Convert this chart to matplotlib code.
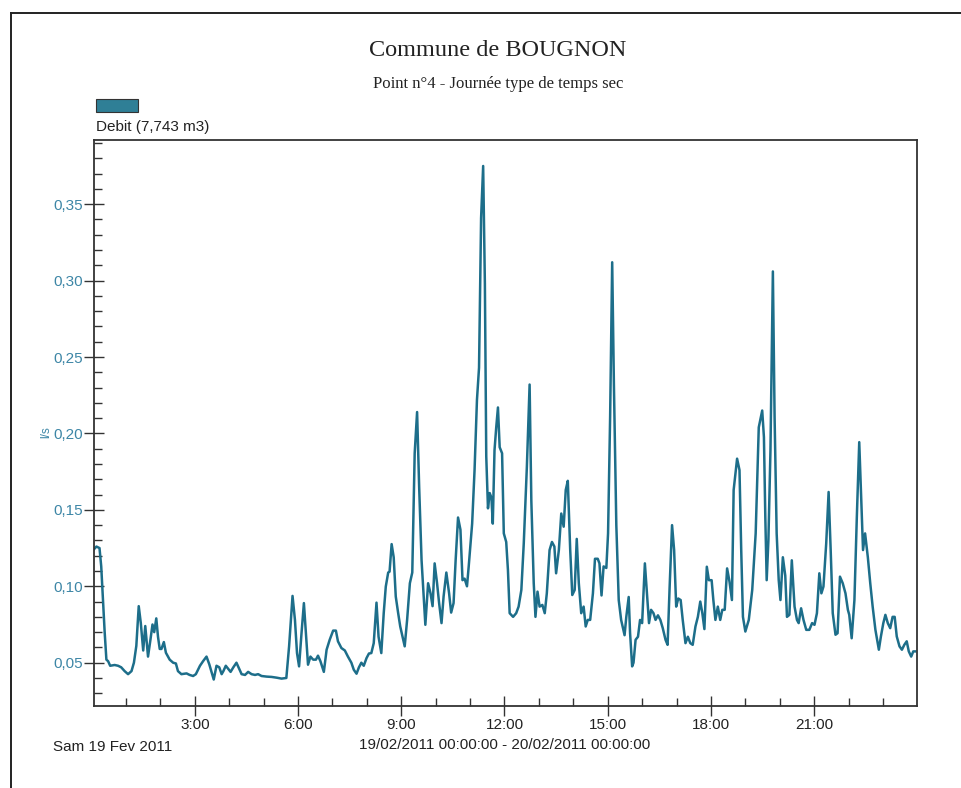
import matplotlib
matplotlib.use("Agg")
import matplotlib.pyplot as plt
from matplotlib.patches import Rectangle
from matplotlib.lines import Line2D
import numpy as np

# ---- data (hours since 00:00, flow in l/s) ----
hours = [
    0.06, 0.14, 0.23, 0.28, 0.38, 0.43, 0.48, 0.54, 0.67, 0.77, 0.86, 0.96, 1.06, 1.16, 1.23,
    1.30, 1.37, 1.43, 1.50, 1.56, 1.64, 1.71, 1.77, 1.82, 1.88, 1.93, 1.98, 2.03, 2.10, 2.16,
    2.27, 2.37, 2.45, 2.51, 2.61, 2.76, 2.85, 2.95, 3.03, 3.15, 3.24, 3.34, 3.42, 3.49, 3.55,
    3.63, 3.71, 3.78, 3.83, 3.90, 3.97, 4.04, 4.12, 4.21, 4.29, 4.36, 4.46, 4.55, 4.65, 4.75,
    4.84, 4.94, 5.09, 5.23, 5.38, 5.52, 5.66,
    5.74, 5.84, 5.91, 5.97, 6.03, 6.10, 6.17, 6.23, 6.29, 6.36, 6.44, 6.52, 6.58, 6.65, 6.75,
    6.83, 6.92, 7.02, 7.10, 7.16, 7.26, 7.36, 7.45, 7.55, 7.62, 7.70, 7.77, 7.84, 7.91, 7.99,
    8.06, 8.13, 8.20, 8.28, 8.34, 8.42, 8.49, 8.55, 8.62, 8.66, 8.72, 8.78, 8.84, 8.91, 8.97,
    9.10, 9.17, 9.25, 9.32, 9.39, 9.46, 9.52, 9.59, 9.70, 9.78, 9.85, 9.91, 9.97, 10.04, 10.10,
    10.17, 10.23, 10.31, 10.39, 10.45, 10.52, 10.58, 10.65, 10.72, 10.78, 10.84, 10.91, 10.96,
    11.06, 11.13, 11.20, 11.26, 11.32, 11.38, 11.43, 11.47, 11.52, 11.57, 11.62, 11.66, 11.71,
    11.76, 11.81, 11.86, 11.93, 11.98, 12.05, 12.10, 12.15, 12.25, 12.34, 12.41, 12.49, 12.56,
    12.65, 12.73, 12.78, 12.85, 12.90, 12.96, 13.02, 13.10, 13.17, 13.23, 13.31, 13.38, 13.45,
    13.50, 13.58, 13.65, 13.72, 13.78, 13.84, 13.91, 13.97, 14.04, 14.10, 14.16, 14.23, 14.30,
    14.36, 14.42, 14.49, 14.57, 14.63, 14.71, 14.76, 14.82, 14.88, 14.96, 15.01, 15.07, 15.13,
    15.18, 15.25, 15.32, 15.39, 15.49, 15.54, 15.61, 15.65, 15.71, 15.75, 15.81, 15.88, 15.94,
    16.00, 16.08, 16.14, 16.20, 16.26, 16.33, 16.39, 16.46, 16.53, 16.60, 16.68, 16.74, 16.80,
    16.87, 16.93, 16.99, 17.05, 17.12, 17.18, 17.26, 17.33, 17.40, 17.47, 17.55, 17.62, 17.69,
    17.75, 17.81, 17.88, 17.94, 18.02, 18.07, 18.13, 18.20, 18.27, 18.33, 18.40, 18.47, 18.54,
    18.61, 18.66, 18.76, 18.83, 18.88, 18.93, 19.00, 19.10, 19.20, 19.30, 19.39, 19.49, 19.54,
    19.58, 19.62, 19.67, 19.73, 19.80, 19.85, 19.91, 19.97, 20.02, 20.09, 20.16, 20.21, 20.28,
    20.35, 20.43, 20.50, 20.55, 20.62, 20.69, 20.77, 20.86, 20.94, 21.01, 21.08, 21.15, 21.21,
    21.27, 21.35, 21.42, 21.48, 21.54, 21.62, 21.68, 21.75, 21.83, 21.91, 21.98, 22.02, 22.09,
    22.17, 22.24, 22.31, 22.37, 22.42, 22.48, 22.56, 22.63, 22.70, 22.78, 22.88, 22.94, 23.01,
    23.07, 23.14, 23.21, 23.28, 23.34, 23.40, 23.48, 23.55, 23.62, 23.69, 23.75, 23.82, 23.88,
    23.94,
]

debit = [
    0.124, 0.126, 0.125, 0.113, 0.070, 0.052, 0.051, 0.048, 0.0485, 0.048, 0.047, 0.0445, 0.0425, 0.0445, 0.050,
    0.061, 0.087, 0.076, 0.058, 0.074, 0.054, 0.065, 0.075, 0.070, 0.079, 0.067, 0.059, 0.059, 0.0635, 0.0565,
    0.052, 0.050, 0.0495, 0.0445, 0.0425, 0.043, 0.042, 0.0413, 0.0425, 0.048, 0.051, 0.054, 0.049, 0.0435, 0.039,
    0.048, 0.047, 0.0425, 0.0445, 0.048, 0.046, 0.044, 0.047, 0.050, 0.046, 0.0425, 0.042, 0.044, 0.0425, 0.042,
    0.0425, 0.0413, 0.0409, 0.0407, 0.0402, 0.0396, 0.040,
    0.0607, 0.0937, 0.078, 0.0563, 0.0476, 0.069, 0.089, 0.069, 0.0487, 0.054, 0.052, 0.052, 0.0546, 0.051, 0.044,
    0.0585, 0.065, 0.071, 0.071, 0.064, 0.0596, 0.058, 0.054, 0.050, 0.0454, 0.0428, 0.047, 0.050, 0.048, 0.053,
    0.056, 0.0563, 0.0628, 0.0893, 0.067, 0.0563, 0.0824, 0.0998, 0.109, 0.1096, 0.1276, 0.119, 0.0933, 0.0824, 0.0737,
    0.0607, 0.078, 0.102, 0.109, 0.187, 0.214, 0.165, 0.117, 0.0748, 0.102, 0.0954, 0.087, 0.115, 0.102, 0.089,
    0.0759, 0.0933, 0.109, 0.0954, 0.0828, 0.089, 0.117, 0.145, 0.137, 0.104, 0.105, 0.100, 0.113,
    0.141, 0.176, 0.222, 0.243, 0.341, 0.375, 0.298, 0.185, 0.151, 0.161, 0.158, 0.141, 0.189,
    0.204, 0.217, 0.191, 0.187, 0.1346, 0.129, 0.1107, 0.0824, 0.080, 0.0824, 0.0867, 0.0976, 0.128,
    0.178, 0.232, 0.156, 0.102, 0.080, 0.0965, 0.0867, 0.0878, 0.0824, 0.0954, 0.1237, 0.129, 0.126,
    0.1085, 0.1237, 0.1476, 0.139, 0.163, 0.169, 0.1237, 0.0943, 0.0976, 0.131, 0.102, 0.0824, 0.0867,
    0.0737, 0.078, 0.078, 0.0954, 0.118, 0.118, 0.115, 0.094, 0.113, 0.112, 0.1346, 0.2107, 0.312,
    0.232, 0.140, 0.091, 0.078, 0.068, 0.080, 0.093, 0.0693, 0.0476, 0.050, 0.065, 0.067, 0.078,
    0.0759, 0.115, 0.0954, 0.0759, 0.0846, 0.0824, 0.078, 0.081, 0.078, 0.0726, 0.065, 0.0617, 0.0998,
    0.140, 0.1237, 0.0867, 0.092, 0.091, 0.078, 0.0628, 0.067, 0.0628, 0.0617, 0.0737, 0.080, 0.090,
    0.0824, 0.072, 0.1128, 0.104, 0.104, 0.091, 0.078, 0.0867, 0.078, 0.0846, 0.0846, 0.1117, 0.103,
    0.091, 0.163, 0.1835, 0.176, 0.1237, 0.080, 0.0704, 0.078, 0.0976, 0.1346, 0.204, 0.215, 0.1976,
    0.1454, 0.104, 0.130, 0.189, 0.306, 0.2107, 0.1346, 0.104, 0.091, 0.119, 0.107, 0.080, 0.0813,
    0.117, 0.0867, 0.078, 0.0759, 0.0856, 0.078, 0.0715, 0.0715, 0.0759, 0.0748, 0.0824, 0.1085, 0.0954,
    0.0998, 0.128, 0.1617, 0.1237, 0.0824, 0.0683, 0.0693, 0.1063, 0.102, 0.0954, 0.0846, 0.0813, 0.066,
    0.091, 0.1454, 0.1943, 0.156, 0.1237, 0.1346, 0.119, 0.102, 0.0867, 0.0715, 0.0585, 0.0672, 0.0759,
    0.0813, 0.0759, 0.0726, 0.080, 0.080, 0.0672, 0.0607, 0.0585, 0.0617, 0.064, 0.0574, 0.054, 0.0574,
    0.0574,
]

x_major_ticks = [3, 6, 9, 12, 15, 18, 21]
x_major_labels = ["3:00", "6:00", "9:00", "12:00", "15:00", "18:00", "21:00"]
x_minor_ticks = [h for h in range(1, 24)]
y_major_ticks = [0.05, 0.10, 0.15, 0.20, 0.25, 0.30, 0.35]
y_major_labels = ["0,05", "0,10", "0,15", "0,20", "0,25", "0,30", "0,35"]
y_minor_ticks = [round(0.03 + 0.01 * i, 2) for i in range(37)]

title = "Commune de BOUGNON"
subtitle = "Point n°4 - Journée type de temps sec"
legend_label = "Debit (7,743 m3)"
y_label = "l/s"
date_label = "Sam 19 Fev 2011"
range_label = "19/02/2011 00:00:00 - 20/02/2011 00:00:00"

LINE = "#1d6e8a"
TEAL_TXT = "#3d86a6"
SANS = ["Liberation Sans", "DejaVu Sans"]
SERIF = ["Liberation Serif", "DejaVu Serif"]

W, H = 961, 788
fig = plt.figure(figsize=(W / 100, H / 100), dpi=100)
fig.patch.set_facecolor("white")

def fx(px):
    return px / W

def fy(py):
    return 1 - py / H

# outer frame (top and left visible)
fig.add_artist(Line2D([fx(11), fx(961)], [fy(13), fy(13)], color="#222222", lw=1.4))
fig.add_artist(Line2D([fx(11), fx(11)], [fy(13), fy(788)], color="#222222", lw=1.4))

ax = fig.add_axes([fx(94), fy(705.5), fx(916.7) - fx(94), fy(140) - fy(705.5)])
ax.plot(hours, debit, color=LINE, lw=1.8, solid_joinstyle="round")
ax.set_xlim(0.07, 23.98)
ax.set_ylim(0.022, 0.392)

ax.set_xticks(x_major_ticks)
ax.set_xticklabels(x_major_labels, fontfamily=SANS, fontsize=11, color="#222222")
ax.set_xticks(x_minor_ticks, minor=True)
ax.set_yticks(y_major_ticks)
ax.set_yticklabels(y_major_labels, fontfamily=SANS, fontsize=11, color=TEAL_TXT)
ax.set_yticks(y_minor_ticks, minor=True)

ax.tick_params(axis="both", which="major", direction="inout", length=14, width=1.0, color="#333333")
ax.tick_params(axis="both", which="minor", direction="in", length=6, width=1.0, color="#333333")
ax.tick_params(axis="x", which="major", pad=2)
ax.tick_params(axis="y", which="major", pad=1)
for s in ax.spines.values():
    s.set_color("#333333")
    s.set_linewidth(1.3)

fig.text(fx(46), fy(432), y_label, rotation=90, ha="center", va="center",
         fontfamily=SANS, fontsize=8.5, color=TEAL_TXT)

# titles
fig.text(fx(498), fy(51), title, ha="center", va="center", fontfamily=SERIF, fontsize=17.5, color="#222222")
fig.text(fx(498), fy(84), subtitle, ha="center", va="center", fontfamily=SERIF, fontsize=12, color="#222222")

# legend
fig.add_artist(Rectangle((fx(95.7), fy(111.7)), fx(137.7) - fx(95.7), fy(98.7) - fy(111.7),
                         facecolor="#2f7f96", edgecolor="#333333", lw=0.8, transform=fig.transFigure))
fig.text(fx(95.5), fy(126.5), legend_label, ha="left", va="center", fontfamily=SANS, fontsize=11, color="#222222")

# bottom labels
fig.text(fx(53), fy(747), date_label, ha="left", va="center", fontfamily=SANS, fontsize=11, color="#222222")
fig.text(fx(505), fy(745), range_label, ha="center", va="center", fontfamily=SANS, fontsize=11, color="#222222")

fig.savefig("out.png", dpi=100, facecolor="white")
